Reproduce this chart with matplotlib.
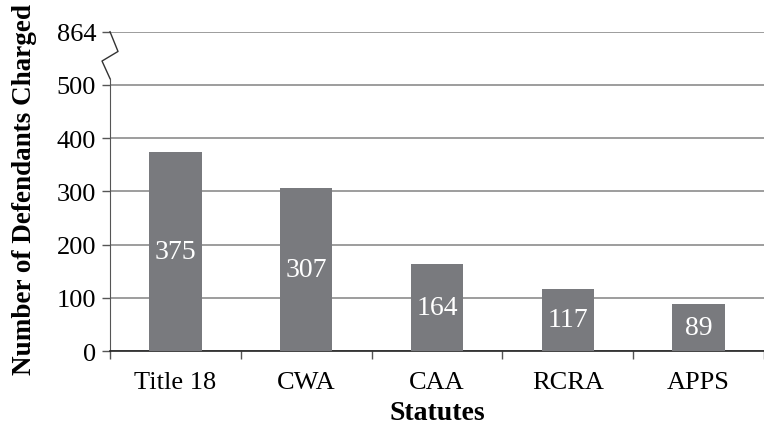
import matplotlib
matplotlib.use('Agg')
import matplotlib.pyplot as plt
import matplotlib.transforms as mtransforms
import numpy as np

statutes = ['Title 18', 'CWA', 'CAA', 'RCRA', 'APPS']
defendants = [375, 307, 164, 117, 89]
ytick_pos = [0, 100, 200, 300, 400, 500, 600]
ytick_labels = ['0', '100', '200', '300', '400', '500', '864']

plt.rcParams['font.family'] = ['Liberation Serif', 'DejaVu Serif']

fig = plt.figure(figsize=(7.64, 4.31), dpi=100)
ax = fig.add_axes([0.144, 0.183, 0.856, 0.741])

x = np.arange(len(statutes))
bars = ax.bar(x, defendants, width=0.4, color='#797a7e', zorder=3)

# white value labels centred in each bar
for xi, v in zip(x, defendants):
    ax.text(xi, v / 2, str(v), ha='center', va='center', color='white',
            fontsize=20, zorder=4)

ax.set_xlim(-0.5, len(statutes) - 0.5)
ax.set_ylim(0, 600)
ax.set_yticks(ytick_pos)
ax.set_yticklabels(ytick_labels, fontsize=19)
ax.set_xticks(x)
ax.set_xticklabels(statutes, fontsize=19)
ax.set_xticks(np.arange(-0.5, len(statutes)), minor=True)
ax.tick_params(axis='x', which='major', length=0, pad=14)
ax.tick_params(axis='x', which='minor', length=6, width=1, color='#555555')
ax.tick_params(axis='y', length=6, width=1, color='#555555', pad=4)

ax.yaxis.grid(True, color='#8c8c8c', linewidth=1.2, zorder=0)
ax.set_axisbelow(True)

for s in ['top', 'right']:
    ax.spines[s].set_visible(False)
ax.spines['bottom'].set_color('#222222')
ax.spines['bottom'].set_linewidth(1.2)
ax.spines['left'].set_color('#555555')
ax.spines['left'].set_bounds(0, 512)

# axis break zigzag between 500 and 864
trans = mtransforms.blended_transform_factory(ax.transAxes, ax.transData)
dx = 8 / (0.856 * 764)
ax.plot([0, dx, -dx, 0], [600, 563, 545, 512], color='#333333', lw=1,
        transform=trans, clip_on=False, zorder=5)

ax.set_xlabel('Statutes', fontsize=20, fontweight='bold', labelpad=5)
ax.set_ylabel('Number of Defendants Charged', fontsize=19.5, fontweight='bold')
ax.yaxis.set_label_coords(-0.112, 0.51)

fig.savefig('out.png', dpi=100)
